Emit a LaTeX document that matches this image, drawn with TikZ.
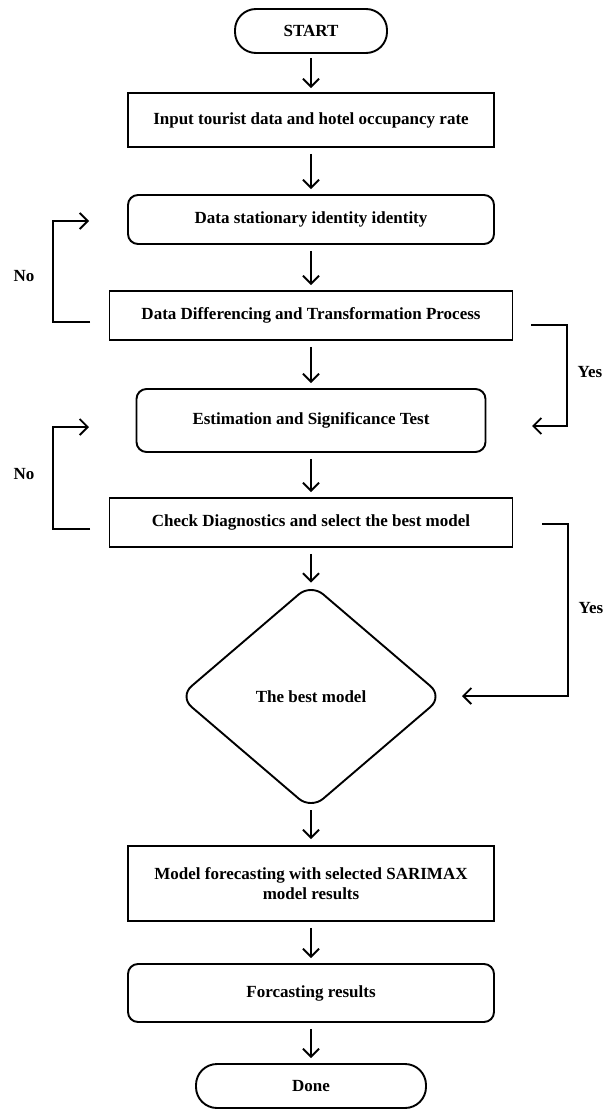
\documentclass[tikz,border=0pt]{standalone}
\usepackage{fontspec}
\setmainfont{Liberation Serif}
\usetikzlibrary{shapes.geometric,arrows.meta}
\begin{document}
\begin{tikzpicture}[x=1pt,y=-1pt,
  font=\fontsize{17}{20}\selectfont\bfseries,
  base/.style={draw, line width=1.9pt, inner sep=0pt, align=center},
  proc/.style={base},
  rproc/.style={base, rounded corners=10pt},
  term/.style={base, rounded corners=21pt},
  dec/.style={base, diamond, rounded corners=16pt},
  arr/.style={line width=1.9pt, -{Straight Barb[length=8pt,width=16pt]}},
  flow/.style={arr, shorten <=6pt, shorten >=5pt},
  lbl/.style={inner sep=0pt}
]
\useasboundingbox (0,0) rectangle (605,1110);

\node[term, minimum width=152pt, minimum height=44pt] (start) at (311,31) {START};
\node[proc, minimum width=366pt, minimum height=54pt] (input) at (311,120) {Input tourist data and hotel occupancy rate};
\node[rproc, minimum width=366pt, minimum height=49pt] (stat) at (311,219.5) {Data stationary identity identity};
\node[proc, minimum width=403pt, minimum height=49pt] (diff) at (311,315.5) {Data Differencing and Transformation Process};
\node[rproc, minimum width=349pt, minimum height=63pt] (est) at (311,420.5) {Estimation and Significance Test};
\node[proc, minimum width=403pt, minimum height=49pt] (check) at (311,522.5) {Check Diagnostics and select the best model};
\node[dec, minimum width=264pt, minimum height=226pt] (best) at (311,696.5) {The best model};
\node[proc, minimum width=366pt, minimum height=75pt] (model) at (311,883.5) {Model forecasting with selected SARIMAX\\model results};
\node[rproc, minimum width=366pt, minimum height=58pt] (fres) at (311,993) {Forcasting results};
\node[term, minimum width=230pt, minimum height=44pt] (done) at (311,1086) {Done};

\draw[arr, shorten <=4pt, shorten >=4pt] (start) -- (input);
\draw[flow] (input) -- (stat);
\draw[flow] (stat) -- (diff);
\draw[flow] (diff) -- (est);
\draw[flow] (est) -- (check);
\draw[arr, shorten <=6pt, shorten >=0pt] (check) -- (best);
\draw[arr, shorten <=0pt, shorten >=6pt] (best) -- (model);
\draw[flow] (model) -- (fres);
\draw[flow] (fres) -- (done);

\coordinate (n1s) at (90,322);
\coordinate (n1e) at (89,221);
\coordinate (n2s) at (90,529);
\coordinate (n2e) at (89,427);
\coordinate (y1s) at (531,325);
\coordinate (y1e) at (532,426);
\coordinate (y2s) at (542,524);
\coordinate (y2e) at (462,696);

\draw[arr] (n1s) -- ++(-37,0) |- (n1e);
\draw[arr] (n2s) -- ++(-37,0) |- (n2e);
\draw[arr] (y1s) -- ++(36,0) |- (y1e);
\draw[arr] (y2s) -- ++(26,0) |- (y2e);

\node[lbl] (no1) at (24,276) {No};
\node[lbl] (no2) at (24,474) {No};
\node[lbl] (yes1) at (590,372) {Yes};
\node[lbl] (yes2) at (591,608) {Yes};
\end{tikzpicture}
\end{document}
